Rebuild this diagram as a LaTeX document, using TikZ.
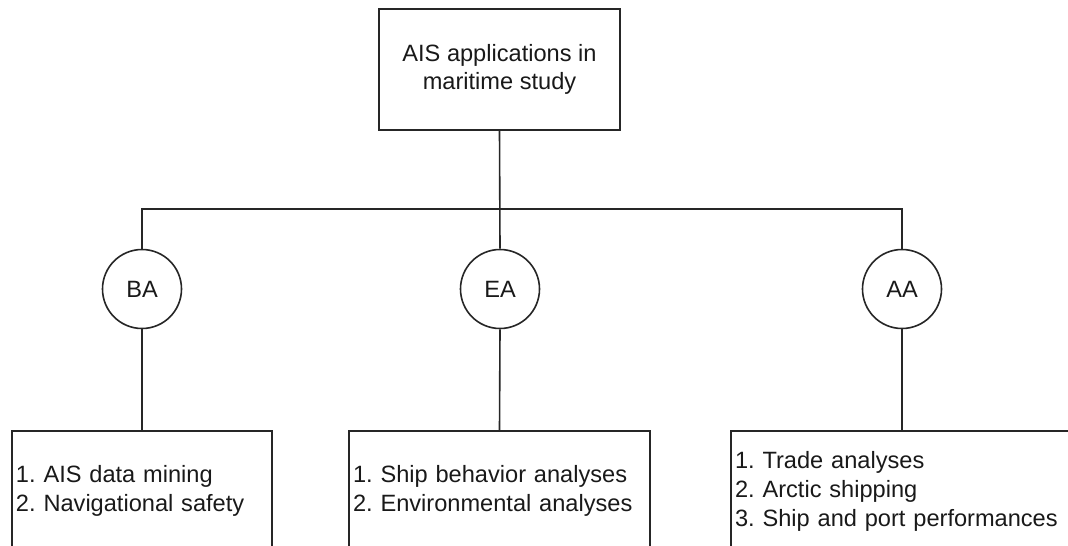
\documentclass[tikz,border=0pt]{standalone}
\usepackage{fontspec}
\setmainfont{Liberation Sans}
\frenchspacing
\begin{document}
\begin{tikzpicture}[x=1pt, y=-1pt, line width=1.6pt, draw=black!85,
    every node/.style={font=\fontsize{23.6}{29}\selectfont, text=black!90},
    topic/.style={draw, minimum width=241pt, minimum height=121pt, align=center},
    area/.style={draw, circle, minimum size=79pt, inner sep=0pt},
    listbox/.style={draw, anchor=north, minimum height=121pt, inner xsep=4pt, align=left}]
    \useasboundingbox (0,0) rectangle (1068,546);
    \clip (0,0) rectangle (1068,546);
    \node[topic] (root) at (499.5,69.5) {AIS applications in\\[-1.5pt]maritime study};
    \node[area] (ba) at (142,289) {BA};
    \node[area] (ea) at (500,289) {EA};
    \node[area] (aa) at (902,289) {AA};
    \coordinate (split) at (500,209);
    \node[listbox, text width=252pt] (balist) at (142,430) {1. AIS data mining\\2. Navigational safety};
    \node[listbox, text width=293pt] (ealist) at (499.5,430) {1. Ship behavior analyses\\2. Environmental analyses};
    \node[listbox, text width=334pt] (aalist) at (902,430) {1. Trade analyses\\2. Arctic shipping\\3. Ship and port performances};
    \draw (root.south) -- (ea.north);
    \draw (ba.north) |- (split) -| (aa.north);
    \draw (ba.south) -- (balist.north);
    \draw (ea.south) -- (ealist.north);
    \draw (aa.south) -- (aalist.north);
\end{tikzpicture}
\end{document}
